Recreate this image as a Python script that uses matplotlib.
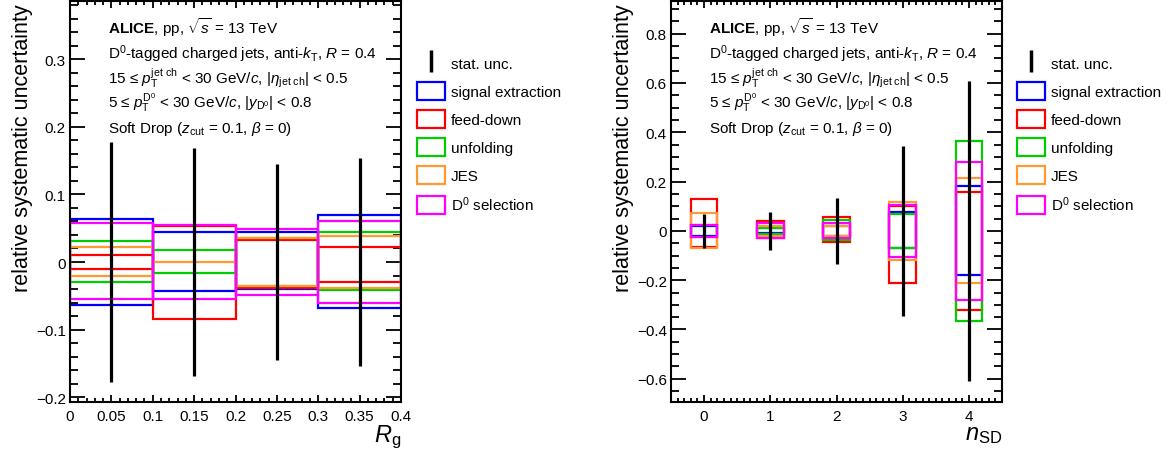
import matplotlib
matplotlib.use('Agg')
import matplotlib.pyplot as plt
from matplotlib.lines import Line2D
from matplotlib.patches import Patch
from matplotlib.ticker import MultipleLocator, FuncFormatter
import numpy as np

plt.rcParams['font.family'] = ['Liberation Sans', 'DejaVu Sans']
plt.rcParams['mathtext.fontset'] = 'custom'
plt.rcParams['mathtext.rm'] = 'Liberation Sans'
plt.rcParams['mathtext.it'] = 'Liberation Sans:italic'
plt.rcParams['mathtext.bf'] = 'Liberation Sans:bold'

# ---- data: R_g panel ----
rg_centers = [0.05, 0.15, 0.25, 0.35]
rg_stat = [0.178, 0.168, 0.145, 0.154]
rg_sig_up = [0.064, 0.044, 0.045, 0.069]
rg_sig_dn = [-0.063, -0.043, -0.040, -0.068]
rg_fd_up = [0.011, 0.053, 0.032, 0.022]
rg_fd_dn = [-0.011, -0.084, -0.039, -0.030]
rg_unf_up = [0.031, 0.018, 0.036, 0.044]
rg_unf_dn = [-0.030, -0.016, -0.036, -0.042]
rg_jes_up = [0.022, 0.0003, 0.036, 0.039]
rg_jes_dn = [-0.021, -0.0003, -0.036, -0.038]
rg_dsel_up = [0.058, 0.055, 0.049, 0.061]
rg_dsel_dn = [-0.055, -0.054, -0.049, -0.060]

# ---- data: n_SD panel ----
nsd_centers = [0, 1, 2, 3, 4]
nsd_stat = [0.068, 0.078, 0.133, 0.345, 0.608]
nsd_sig_up = [0.020, 0.010, 0.020, 0.076, 0.180]
nsd_sig_dn = [-0.020, -0.010, -0.020, -0.070, -0.179]
nsd_fd_up = [0.128, 0.038, 0.055, 0.100, 0.157]
nsd_fd_dn = [-0.066, -0.027, -0.046, -0.212, -0.321]
nsd_unf_up = [0.025, 0.0135, 0.044, 0.069, 0.365]
nsd_unf_dn = [-0.026, -0.0135, -0.039, -0.070, -0.367]
nsd_jes_up = [0.072, 0.020, 0.020, 0.117, 0.213]
nsd_jes_dn = [-0.071, -0.020, -0.020, -0.117, -0.213]
nsd_dsel_up = [0.022, 0.030, 0.032, 0.105, 0.278]
nsd_dsel_dn = [-0.023, -0.030, -0.030, -0.105, -0.280]

labels = ['signal extraction', 'feed-down', 'unfolding', 'JES', 'D$^{0}$ selection']
colors = ['#0000ff', '#ff0000', '#00cc00', '#ff9933', '#ff00ff']

info = [r'$\mathbf{ALICE}$, pp, $\sqrt{s}$ = 13 TeV',
        r'D$^{0}$-tagged charged jets, anti-$k_{\mathrm{T}}$, $R$ = 0.4',
        r'15 ≤ $p_{\mathrm{T}}^{\mathrm{jet\ ch}}$ < 30 GeV/$c$, |$\eta_{\mathrm{jet\ ch}}$| < 0.5',
        r'5 ≤ $p_{\mathrm{T}}^{\mathrm{D^{0}}}$ < 30 GeV/$c$, |$y_{\mathrm{D^{0}}}$| < 0.8',
        r'Soft Drop ($z_{\mathrm{cut}}$ = 0.1, $\beta$ = 0)']

W, H = 1172, 452
fig = plt.figure(figsize=(W / 100, H / 100), dpi=100)


def fmt(v, pos):
    s = f'{v:.2f}'.rstrip('0').rstrip('.')
    if s in ('-0', '0'):
        return '0'
    return s.replace('-', '\u2212')


def make_panel(left, centers, width, stat, ups, dns, xlim, ylim, xmaj, xmin, ymaj, ymin, xlab, legx):
    ax = fig.add_axes([left / W, 1 - 403 / H, 331 / W, 401 / H])
    for up, dn, c in zip(ups, dns, colors):
        up = np.array(up)
        dn = np.array(dn)
        ax.bar(centers, up - dn, bottom=dn, width=width, fill=False,
               edgecolor=c, linewidth=1.6, zorder=2)
    ax.errorbar(centers, np.zeros(len(centers)), yerr=stat, fmt='none',
                ecolor='k', elinewidth=2.3, capsize=0, zorder=5)
    ax.set_xlim(*xlim)
    ax.set_ylim(*ylim)
    ax.xaxis.set_major_locator(MultipleLocator(xmaj))
    ax.xaxis.set_minor_locator(MultipleLocator(xmin))
    ax.yaxis.set_major_locator(MultipleLocator(ymaj))
    ax.yaxis.set_minor_locator(MultipleLocator(ymin))
    ax.xaxis.set_major_formatter(FuncFormatter(fmt))
    ax.yaxis.set_major_formatter(FuncFormatter(fmt))
    for s in ax.spines.values():
        s.set_linewidth(1.5)
    ax.tick_params(which='both', direction='in', top=True, right=True, width=1.3, labelsize=11)
    ax.tick_params(axis='y', which='major', length=11, pad=3)
    ax.tick_params(axis='y', which='minor', length=5.5)
    ax.tick_params(axis='x', which='major', length=5, pad=5)
    ax.tick_params(axis='x', which='minor', length=2.8)
    ax.set_ylabel('relative systematic uncertainty', fontsize=15.5, loc='top')
    ax.yaxis.set_label_coords(-0.112, 0.993)
    ax.set_xlabel(xlab, fontsize=17, loc='right')
    ax.xaxis.set_label_coords(1.0, -0.052)
    for i, t in enumerate(info):
        yb = [34, 59, 83.5, 108, 133][i]
        ax.text(38 / 331, 1 - (yb - 2) / 401, t,
                transform=ax.transAxes, fontsize=11, va='baseline', ha='left')
    handles = [Line2D([], [], marker='|', markersize=16, mew=2.5, linestyle='none', color='k')]
    handles += [Patch(facecolor='none', edgecolor=c, linewidth=1.6) for c in colors]
    fig.legend(handles, ['stat. unc.'] + labels, loc='upper left',
               bbox_to_anchor=(legx / W, 1 - 55 / H), frameon=False, fontsize=11,
               borderpad=0, borderaxespad=0, handlelength=1.85, handleheight=1.4,
               labelspacing=0.68, handletextpad=0.35)
    return ax


ax1 = make_panel(70, rg_centers, 0.1, rg_stat,
                 [rg_sig_up, rg_fd_up, rg_unf_up, rg_jes_up, rg_dsel_up],
                 [rg_sig_dn, rg_fd_dn, rg_unf_dn, rg_jes_dn, rg_dsel_dn],
                 (0, 0.4), (-0.207, 0.386), 0.05, 0.01, 0.1, 0.02,
                 r'$R_{\mathrm{g}}$', 417)
ax2 = make_panel(671, nsd_centers, 0.4, nsd_stat,
                 [nsd_sig_up, nsd_fd_up, nsd_unf_up, nsd_jes_up, nsd_dsel_up],
                 [nsd_sig_dn, nsd_fd_dn, nsd_unf_dn, nsd_jes_dn, nsd_dsel_dn],
                 (-0.5, 4.5), (-0.694, 0.932), 1, 0.1, 0.2, 0.05,
                 r'$n_{\mathrm{SD}}$', 1017)

fig.savefig('out.png', dpi=100)
